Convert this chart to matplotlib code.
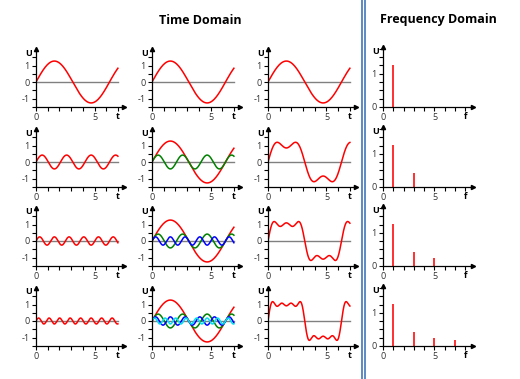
import numpy as np
import matplotlib
matplotlib.use('Agg')
import matplotlib.pyplot as plt
from matplotlib.lines import Line2D

# Fourier components of a square wave
harmonics = [1, 3, 5, 7]
amplitudes = [1.27, 0.42, 0.25, 0.18]
wave_colors = ['#ff0000', '#008000', '#0000ff', '#00e0f0']

time_xticks = [0, 5]
time_yticks = [-1, 0, 1]
freq_xticks = [0, 5]
freq_yticks = [0, 1]

t = np.linspace(0, 7, 500)

plt.rcParams['font.family'] = ['Open Sans', 'DejaVu Sans']
plt.rcParams['axes.unicode_minus'] = False

W, H = 520, 379
fig = plt.figure(figsize=(W / 100, H / 100), dpi=100)


def add_panel(left_px, bottom_px, w_px, h_px):
    return fig.add_axes([left_px / W, (H - bottom_px) / H, w_px / W, h_px / H])


def style(ax, xmax, ymin, ymax, xlab, xlab_pos, xt, yt, yminor):
    ax.set_xlim(0, xmax)
    ax.set_ylim(ymin, ymax)
    ax.patch.set_visible(False)
    for s in ['top', 'right']:
        ax.spines[s].set_visible(False)
    for s in ['left', 'bottom']:
        ax.spines[s].set_linewidth(0.9)
    ax.set_xticks(xt)
    ax.set_xticks(np.arange(0, int(xmax) + 1), minor=True)
    ax.set_yticks(yt)
    ax.set_yticks(yminor, minor=True)
    ax.tick_params(which='both', direction='out', length=3, width=0.8,
                   labelsize=6.5, labelcolor='#333333', pad=1.5)
    ax.plot(1, 0, '>k', transform=ax.transAxes, clip_on=False, ms=3)
    ax.plot(0, 1, '^k', transform=ax.transAxes, clip_on=False, ms=3)
    ax.annotate('U', xy=(0, 1), xycoords='axes fraction', xytext=(-7, -4),
                textcoords='offset pixels', ha='center', va='center',
                fontsize=6.5, fontweight='bold')
    ax.annotate(xlab, xy=(xlab_pos, 0), xycoords=('data', 'axes fraction'),
                xytext=(0, -10), textcoords='offset pixels', ha='center',
                va='center', fontsize=6.5, fontweight='bold')


row_bottoms = [106.75, 186.75, 265.75, 345.75]
col_lefts = [36, 152, 268]
tw, th = 87.75, 57.75

for r in range(4):
    waves = [amplitudes[k] * np.sin(harmonics[k] * t) for k in range(r + 1)]

    # column 1: single harmonic
    ax = add_panel(col_lefts[0], row_bottoms[r], tw, th)
    style(ax, 7.5, -1.5, 2.0, 't', 7.0, time_xticks, time_yticks,
          np.arange(-1.5, 1.6, 0.5))
    ax.plot([0, 7], [0, 0], color='#808080', lw=1)
    ax.plot(t, waves[r], color='#ff0000', lw=1.1)

    # column 2: all harmonics so far
    ax = add_panel(col_lefts[1], row_bottoms[r], tw, th)
    style(ax, 7.5, -1.5, 2.0, 't', 7.0, time_xticks, time_yticks,
          np.arange(-1.5, 1.6, 0.5))
    ax.plot([0, 7], [0, 0], color='#808080', lw=1)
    for k in range(r + 1):
        ax.plot(t, waves[k], color=wave_colors[k], lw=1.1)

    # column 3: sum
    ax = add_panel(col_lefts[2], row_bottoms[r], tw, th)
    style(ax, 7.5, -1.5, 2.0, 't', 7.0, time_xticks, time_yticks,
          np.arange(-1.5, 1.6, 0.5))
    ax.plot([0, 7], [0, 0], color='#808080', lw=1)
    ax.plot(t, np.sum(waves, axis=0), color='#ff0000', lw=1.1)

    # column 4: spectrum
    ax = add_panel(383, row_bottoms[r], 89.6, 59.4)
    style(ax, 8.7, 0, 1.8, 'f', 8.0, freq_xticks, freq_yticks,
          np.arange(0, 1.76, 0.25))
    ax.vlines(harmonics[:r + 1], 0, amplitudes[:r + 1], color='#ff3030', lw=1.4)

fig.text(200 / W, 1 - 20 / H, 'Time Domain', ha='center', va='center',
         fontsize=9, fontweight='bold')
fig.text(438 / W, 1 - 20 / H, 'Frequency Domain', ha='center', va='center',
         fontsize=9, fontweight='bold')

for xp in [362, 365]:
    fig.add_artist(Line2D([xp / W, xp / W], [0, 1], color='#4f81bd', lw=1.3))

fig.savefig('out.png', dpi=100)
